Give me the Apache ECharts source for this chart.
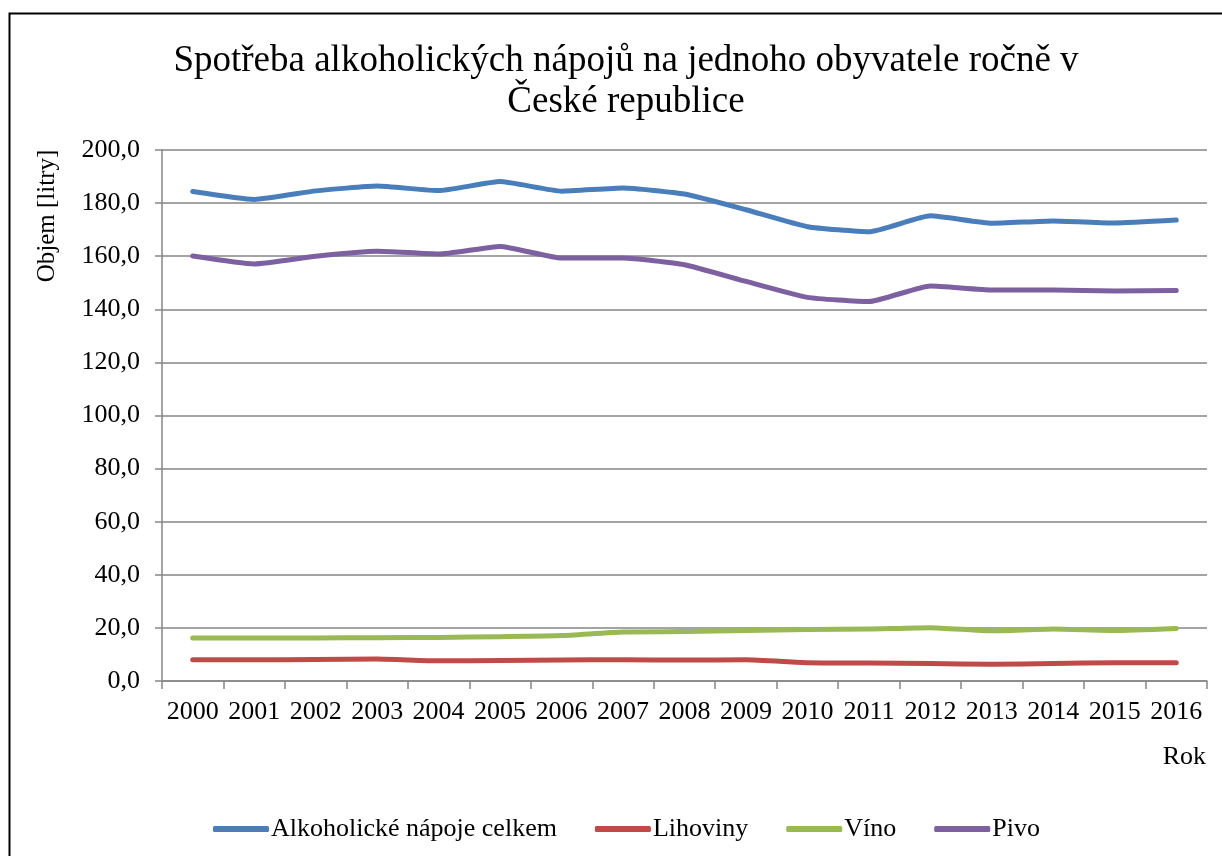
<!DOCTYPE html>
<html>
<head>
<meta charset="utf-8">
<script src="https://cdn.jsdelivr.net/npm/echarts@6/dist/echarts.min.js"></script>
<style>html,body{margin:0;padding:0;background:#fff}#c{width:1222px;height:856px}</style>
</head>
<body>
<div id="c"></div>
<script>
const years = ['2000','2001','2002','2003','2004','2005','2006','2007','2008','2009','2010','2011','2012','2013','2014','2015','2016'];
const celkem = [184.4,181.4,184.6,186.4,184.7,188.1,184.5,185.7,183.4,177.5,171.1,169.2,175.2,172.4,173.3,172.5,173.6];
const lihoviny = [8.0,8.0,8.1,8.3,7.6,7.7,7.9,8.0,7.9,8.0,6.9,6.8,6.6,6.3,6.6,6.9,6.9];
const vino = [16.2,16.2,16.2,16.3,16.4,16.7,17.1,18.5,18.6,19.0,19.4,19.6,20.1,18.9,19.6,19.0,19.8];
const pivo = [160.1,157.1,160.0,161.9,160.8,163.7,159.3,159.3,156.8,150.5,144.5,142.9,148.8,147.3,147.3,146.9,147.1];
const seriesNames = ['Alkoholické nápoje celkem','Lihoviny','Víno','Pivo'];
const yTicks = {min:0, max:200, interval:20};

const font = '"Liberation Serif", "Times New Roman", serif';
const gridColor = '#868686';
const colors = ['#4a7ebb','#be4b48','#98b954','#7d60a0'];
const data = [celkem, lihoviny, vino, pivo];

const chart = echarts.init(document.getElementById('c'), null, {renderer:'canvas'});
chart.setOption({
  animation:false,
  backgroundColor:'#ffffff',
  color: colors,
  title:{
    text:'Spotřeba alkoholických nápojů na jednoho obyvatele ročně v\nČeské republice',
    left:621, top:36, textAlign:'center',
    textStyle:{fontFamily:font, fontSize:37, fontWeight:'normal', color:'#000', lineHeight:41}
  },
  grid:{left:162, right:15, top:150, bottom:175, containLabel:false},
  legend:{
    left:208, top:811,
    icon:'roundRect', itemWidth:56, itemHeight:6, itemGap:38,
    textStyle:{fontFamily:font, fontSize:26, color:'#000', padding:[0,0,0,-3]},
    data: seriesNames
  },
  xAxis:{
    type:'category', data:years, boundaryGap:true,
    axisLine:{lineStyle:{color:gridColor, width:1.5}},
    axisTick:{show:true, length:8, alignWithLabel:false, lineStyle:{color:gridColor, width:1.5}},
    axisLabel:{fontFamily:font, fontSize:26, color:'#000', margin:18, interval:0},
    splitLine:{show:false}
  },
  yAxis:{
    type:'value', min:yTicks.min, max:yTicks.max, interval:yTicks.interval,
    axisLine:{show:true, lineStyle:{color:gridColor, width:1.5}},
    axisTick:{show:true, length:7, lineStyle:{color:gridColor, width:1.5}},
    axisLabel:{fontFamily:font, fontSize:26, color:'#000', margin:22,
      formatter: v => v.toFixed(1).replace('.', ',')},
    splitLine:{show:true, lineStyle:{color:gridColor, width:1.5}}
  },
  graphic:[
    {type:'rect', left:7, top:11, shape:{width:1300, height:1000},
     style:{fill:null, stroke:'#000', lineWidth:2}, silent:true, z:-1},
    {type:'text', x:47, y:216, rotation:Math.PI/2,
     style:{text:'Objem [litry]', fontFamily:font, fontSize:25, fill:'#000', align:'center', verticalAlign:'middle'}},
    {type:'text', x:1206, y:757,
     style:{text:'Rok', fontFamily:font, fontSize:26, fill:'#000', align:'right', verticalAlign:'middle'}}
  ],
  series: seriesNames.map((n,i)=>({
    name:n, type:'line', data:data[i], smooth:0.15, symbol:'none',
    lineStyle:{width:5, color:colors[i], cap:'round', join:'round'}
  }))
});
</script>
</body>
</html>
